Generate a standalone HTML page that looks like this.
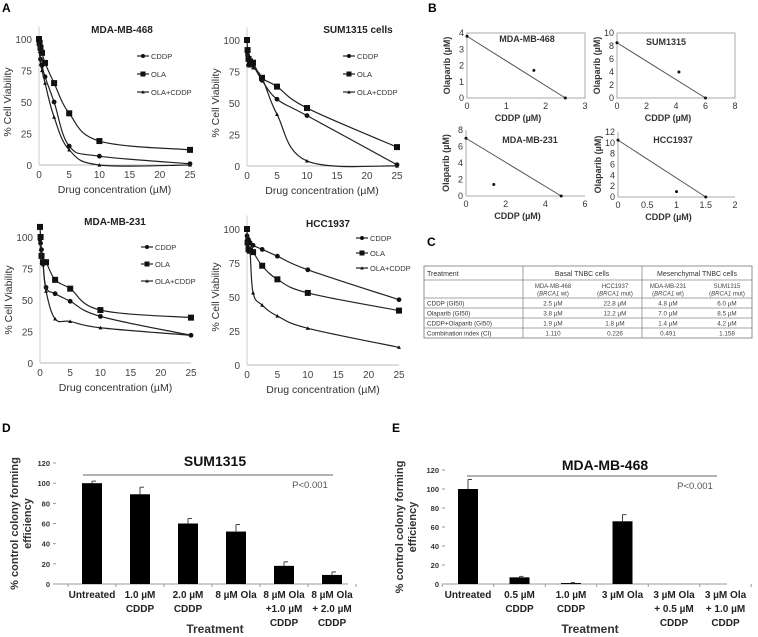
<!DOCTYPE html>
<html><head><meta charset="utf-8">
<style>
html,body{margin:0;padding:0;background:#fff;}
svg{display:block;font-family:"Liberation Sans",Arial,sans-serif;}
</style></head>
<body>
<svg id="fig" width="758" height="637" viewBox="0 0 758 637" xmlns="http://www.w3.org/2000/svg">
<text x="2" y="12" font-size="12" font-weight="bold">A</text>
<text x="428" y="12" font-size="12" font-weight="bold">B</text>
<text x="427" y="246" font-size="12" font-weight="bold">C</text>
<text x="2" y="432" font-size="12" font-weight="bold">D</text>
<text x="392" y="432" font-size="12" font-weight="bold">E</text>
<g id="tbl"></g>
</svg>
<script>
// ---------- Panel A data ----------
const doseX = [0, 0.1, 0.25, 0.5, 1, 2.5, 5, 10, 25];
const a1Cddp = [100, 95, 84, 79, 70, 50, 15, 7, 1];
const a1Ola = [100, 97, 93, 89, 81, 65, 41, 19, 12];
const a1Combo = [98, 90, 80, 75, 65, 38, 12, 0, 0];
const a2Cddp = [92, 88, 80, 80, 80, 68, 53, 40, 1];
const a2Ola = [100, 92, 85, 83, 82, 70, 63, 46, 15];
const a2Combo = [90, 85, 82, 80, 78, 70, 41, 4, 0];
const a3Cddp = [98, 95, 90, 80, 60, 55, 49, 37, 22];
const a3Ola = [108, 100, 85, 80, 80, 66, 59, 42, 36];
const a3Combo = [96, 90, 80, 78, 57, 35, 33, 28, 22];
const a4Cddp = [95, 93, 92, 90, 88, 85, 80, 70, 48];
const a4Ola = [100, 90, 85, 84, 83, 73, 63, 53, 40];
const a4Combo = [92, 88, 86, 84, 53, 44, 36, 27, 13];
const aXTicks = [0, 5, 10, 15, 20, 25];
const aYTicks = [0, 25, 50, 75, 100];
const aSeriesNames = ["CDDP", "OLA", "OLA+CDDP"];
// ---------- Panel B data ----------
const b1Line = [[0, 3.8], [2.5, 0]]; const b1Pt = [1.7, 1.7];
const b2Line = [[0, 8.5], [6, 0]]; const b2Pt = [4.2, 4];
const b3Line = [[0, 7], [4.8, 0]]; const b3Pt = [1.4, 1.4];
const b4Line = [[0, 10.5], [1.5, 0]]; const b4Pt = [1, 1];
const b1XTicks = [0, 1, 2, 3]; const b1YTicks = [0, 1, 2, 3, 4];
const b2XTicks = [0, 2, 4, 6, 8]; const b2YTicks = [0, 2, 4, 6, 8, 10];
const b3XTicks = [0, 2, 4, 6]; const b3YTicks = [0, 2, 4, 6, 8];
const b4XTicks = [0, 0.5, 1, 1.5, 2]; const b4YTicks = [0, 2, 4, 6, 8, 10, 12];
// ---------- Panel D/E data ----------
const dValues = [100, 89, 60, 52, 18, 9];
const dErrors = [2, 7, 5, 7, 4, 3];
const dCats = [["Untreated"], ["1.0 µM", "CDDP"], ["2.0 µM", "CDDP"], ["8 µM  Ola"], ["8 µM  Ola", "+1.0 µM", "CDDP"], ["8 µM  Ola", "+ 2.0 µM", "CDDP"]];
const eValues = [100, 7, 1, 66, 0, 0];
const eErrors = [10, 1, 0.5, 7, 0, 0];
const eCats = [["Untreated"], ["0.5 µM", "CDDP"], ["1.0 µM", "CDDP"], ["3 µM  Ola"], ["3 µM  Ola", "+ 0.5 µM", "CDDP"], ["3 µM  Ola", "+ 1.0 µM", "CDDP"]];
const barYTicks = [0, 20, 40, 60, 80, 100, 120];

const svg = document.getElementById('fig');
const NS = "http://www.w3.org/2000/svg";
function mk(tag, attrs, parent, txt) {
  const e = document.createElementNS(NS, tag);
  for (const k in attrs) e.setAttribute(k, attrs[k]);
  if (txt !== undefined) e.textContent = txt;
  (parent || svg).appendChild(e);
  return e;
}
function lin(d0, d1, r0, r1) { return v => r0 + (v - d0) / (d1 - d0) * (r1 - r0); }
function smoothPath(pts) {
  let d = "M" + pts[0][0] + "," + pts[0][1];
  for (let i = 0; i < pts.length - 1; i++) {
    const p0 = pts[i - 1] || pts[i], p1 = pts[i], p2 = pts[i + 1], p3 = pts[i + 2] || p2;
    const t = 0.18;
    const c1 = [p1[0] + (p2[0] - p0[0]) * t, p1[1] + (p2[1] - p0[1]) * t];
    const c2 = [p2[0] - (p3[0] - p1[0]) * t, p2[1] - (p3[1] - p1[1]) * t];
    d += " C" + c1[0] + "," + c1[1] + " " + c2[0] + "," + c2[1] + " " + p2[0] + "," + p2[1];
  }
  return d;
}
function marker(g, kind, x, y, s) {
  let m;
  if (kind === 0) m = mk('circle', { cx: x, cy: y, r: s * 0.8, fill: '#111' }, g);
  else if (kind === 1) m = mk('rect', { x: x - s, y: y - s, width: 2 * s, height: 2 * s, fill: '#111' }, g);
  else m = mk('polygon', { points: `${x},${y - s} ${x - s},${y + s * 0.8} ${x + s},${y + s * 0.8}`, fill: '#111' }, g);
  return m;
}

function lineChart(cfg) {
  const g = mk('g', {});
  
  
  const sx = lin(0, 25, cfg.x0, cfg.x1), sy = lin(0, 100, cfg.y0, cfg.y1);
  mk('line', { x1: cfg.x0, y1: sy(0), x2: cfg.x1, y2: sy(0), stroke: '#bbb', 'stroke-width': 1 }, g);
  mk('line', { x1: cfg.x0, y1: sy(0), x2: cfg.x0, y2: sy(110), stroke: '#ccc', 'stroke-width': 1 }, g);
  aXTicks.forEach(t => {
    const tx = mk('text', { x: sx(t), y: sy(0) + 13, 'font-size': 10, fill: '#444', 'text-anchor': 'middle' }, g, t);
    
    
  });
  aYTicks.forEach(t => {
    const ty = mk('text', { x: cfg.x0 - 7, y: sy(t) + 4, 'font-size': 10, fill: '#444', 'text-anchor': 'end' }, g, t);
    
    
  });
  const xt = mk('text', { x: (cfg.x0 + cfg.x1) / 2, y: sy(0) + 28, 'font-size': 10.5, fill: '#333', 'text-anchor': 'middle' }, g, 'Drug concentration (µM)');
  
  
  const yl = (sy(0) + sy(100)) / 2;
  const yt = mk('text', { x: cfg.x0 - 28, y: yl, 'font-size': 10.5, fill: '#333', 'text-anchor': 'middle', transform: `rotate(-90 ${cfg.x0 - 28} ${yl})` }, g, '% Cell Viability');
  
  
  const tt = mk('text', { x: cfg.tx, y: cfg.ty, 'font-size': 10, 'font-weight': 'bold', fill: '#222', 'text-anchor': 'middle' }, g, cfg.title);
  
  
  cfg.series.forEach((vals, si) => {
    const pts = doseX.map((x, i) => [sx(x), sy(vals[i])]);
    const p = mk('path', { d: smoothPath(pts), fill: 'none', stroke: '#222', 'stroke-width': 1.2 }, g);
    
    
    const size = si === 2 ? 2 : 3;
    pts.forEach(pt => {
      const m = marker(g, si, pt[0], pt[1], size);
      
      
    });
    const ly = cfg.ly + si * cfg.lstep;
    const le = mk('g', {}, g);
    
    
    mk('line', { x1: cfg.lx - 6, y1: ly, x2: cfg.lx + 6, y2: ly, stroke: '#222', 'stroke-width': 1.2 }, le);
    marker(le, si, cfg.lx, ly, si === 2 ? 1.8 : 2.5);
    mk('text', { x: cfg.lx + 8, y: ly + 3, 'font-size': 7.5, fill: '#333' }, le, aSeriesNames[si]);
  });
}
lineChart({ name: 'chart-mda-mb-468-viability', title: 'MDA-MB-468', x0: 39, x1: 190, y0: 165, y1: 39, tx: 122, ty: 33, lx: 143, ly: 56, lstep: 18, series: [a1Cddp, a1Ola, a1Combo] });
lineChart({ name: 'chart-sum1315-viability', title: 'SUM1315 cells', x0: 247, x1: 397, y0: 166, y1: 40, tx: 358, ty: 33, lx: 349, ly: 56, lstep: 18, series: [a2Cddp, a2Ola, a2Combo] });
lineChart({ name: 'chart-mda-mb-231-viability', title: 'MDA-MB-231', x0: 40, x1: 191, y0: 363, y1: 237, tx: 115, ty: 225, lx: 147, ly: 247, lstep: 17, series: [a3Cddp, a3Ola, a3Combo] });
lineChart({ name: 'chart-hcc1937-viability', title: 'HCC1937', x0: 247, x1: 399, y0: 365, y1: 229, tx: 328, ty: 227, lx: 362, ly: 238, lstep: 15, series: [a4Cddp, a4Ola, a4Combo] });

// ---------- Panel B ----------
function isobol(cfg) {
  const g = mk('g', {});
  
  
  const xm = cfg.xt[cfg.xt.length - 1], ym = cfg.yt[cfg.yt.length - 1];
  const sx = lin(0, xm, cfg.x0, cfg.x1), sy = lin(0, ym, cfg.y0, cfg.y1);
  if (cfg.box) mk('rect', { x: cfg.x0, y: cfg.y1, width: cfg.x1 - cfg.x0, height: cfg.y0 - cfg.y1, fill: 'none', stroke: '#aaa', 'stroke-width': 1 }, g);
  else {
    mk('line', { x1: cfg.x0, y1: cfg.y0, x2: cfg.x1, y2: cfg.y0, stroke: '#aaa' }, g);
    mk('line', { x1: cfg.x0, y1: cfg.y0, x2: cfg.x0, y2: cfg.y1, stroke: '#aaa' }, g);
  }
  cfg.xt.forEach(t => {
    const e = mk('text', { x: sx(t), y: cfg.y0 + 11, 'font-size': 9, fill: '#333', 'text-anchor': 'middle' }, g, t);
    
    
  });
  cfg.yt.forEach(t => {
    const e = mk('text', { x: cfg.x0 - 3, y: sy(t) + 3, 'font-size': 9, fill: '#333', 'text-anchor': 'end' }, g, t);
    
    
  });
  const ln = mk('line', { x1: sx(cfg.line[0][0]), y1: sy(cfg.line[0][1]), x2: sx(cfg.line[1][0]), y2: sy(cfg.line[1][1]), stroke: '#555', 'stroke-width': 1 }, g);
  
  
  cfg.line.forEach(p => {
    const c = mk('circle', { cx: sx(p[0]), cy: sy(p[1]), r: 1.5, fill: '#111' }, g);
    
    
  });
  const cp = mk('circle', { cx: sx(cfg.pt[0]), cy: sy(cfg.pt[1]), r: 1.5, fill: '#111' }, g);
  
  
  const tt = mk('text', { x: cfg.tx, y: cfg.ty, 'font-size': 9, 'font-weight': 'bold', fill: '#333', 'text-anchor': 'middle' }, g, cfg.title);
  
  
  const xt = mk('text', { x: (cfg.x0 + cfg.x1) / 2 - 8, y: cfg.y0 + 23, 'font-size': 9, 'font-weight': 'bold', fill: '#333', 'text-anchor': 'middle' }, g, 'CDDP (µM)');
  
  
  const yy = (cfg.y0 + cfg.y1) / 2, yx = cfg.x0 - 17;
  const yt = mk('text', { x: yx, y: yy, 'font-size': 9, 'font-weight': 'bold', fill: '#333', 'text-anchor': 'middle', transform: `rotate(-90 ${yx} ${yy})` }, g, 'Olaparib (µM)');
  
  
}
isobol({ name: 'isobologram-mda-mb-468', title: 'MDA-MB-468', x0: 467, x1: 585, y0: 98, y1: 33, xt: b1XTicks, yt: b1YTicks, line: b1Line, pt: b1Pt, box: true, tx: 527, ty: 42 });
isobol({ name: 'isobologram-sum1315', title: 'SUM1315', x0: 617, x1: 735, y0: 98, y1: 33, xt: b2XTicks, yt: b2YTicks, line: b2Line, pt: b2Pt, box: true, tx: 666, ty: 45 });
isobol({ name: 'isobologram-mda-mb-231', title: 'MDA-MB-231', x0: 466, x1: 585, y0: 196, y1: 130, xt: b3XTicks, yt: b3YTicks, line: b3Line, pt: b3Pt, box: false, tx: 530, ty: 143 });
isobol({ name: 'isobologram-hcc1937', title: 'HCC1937', x0: 618, x1: 735, y0: 197, y1: 132, xt: b4XTicks, yt: b4YTicks, line: b4Line, pt: b4Pt, box: false, tx: 673, ty: 143 });

// ---------- Panel C table ----------
const tbl = document.getElementById('tbl');
const rowsY = [266, 280, 298, 308, 318, 328, 338];
mk('rect', { x: 424, y: 266, width: 328, height: 72, fill: 'none', stroke: '#777', 'stroke-width': 0.8 }, tbl);
rowsY.slice(1, -1).forEach(y => mk('line', { x1: 424, y1: y, x2: 752, y2: y, stroke: '#888', 'stroke-width': 0.8 }, tbl));
[523, 642].forEach(x => mk('line', { x1: x, y1: 266, x2: x, y2: 338, stroke: '#888', 'stroke-width': 0.8 }, tbl));
const tRows = [["CDDP (GI50)", "2.5 µM", "22.8 µM", "4.8 µM", "6.0 µM"], ["Olaparib (GI50)", "3.8 µM", "12.2 µM", "7.0 µM", "8.5 µM"], ["CDDP+Olaparib (GI50)", "1.9 µM", "1.8 µM", "1.4 µM", "4.2 µM"], ["Combination index (CI)", "1.110", "0.226", "0.491", "1.158"]];
const colX = [553, 615, 668, 727];
mk('text', { x: 427, y: 276, 'font-size': 7, fill: '#333' }, tbl, 'Treatment');
mk('text', { x: 582, y: 276, 'font-size': 7, fill: '#333', 'text-anchor': 'middle' }, tbl, 'Basal TNBC cells');
mk('text', { x: 697, y: 276, 'font-size': 7, fill: '#333', 'text-anchor': 'middle' }, tbl, 'Mesenchymal TNBC cells');
[["MDA-MB-468", "BRCA1", " wt)"], ["HCC1937", "BRCA1", " mut)"], ["MDA-MB-231", "BRCA1", " wt)"], ["SUM1315", "BRCA1", " mut)"]].forEach((h, i) => {
  mk('text', { x: colX[i], y: 288, 'font-size': 6, fill: '#444', 'text-anchor': 'middle' }, tbl, h[0]);
  const t = mk('text', { x: colX[i], y: 295.5, 'font-size': 6, fill: '#444', 'text-anchor': 'middle' }, tbl);
  mk('tspan', {}, t, '(');
  mk('tspan', { 'font-style': 'italic' }, t, h[1]);
  mk('tspan', {}, t, h[2]);
});
tRows.forEach((r, ri) => {
  const y = rowsY[ri + 2] + 7.5;
  mk('text', { x: 427, y: y, 'font-size': 6.3, fill: '#333' }, tbl, r[0]);
  r.slice(1).forEach((v, ci) => mk('text', { x: colX[ci], y: y, 'font-size': 6.3, fill: '#444', 'text-anchor': 'middle' }, tbl, v));
});

// ---------- Panels D/E ----------
function barChart(cfg) {
  const g = mk('g', {});
  
  
  const sy = lin(0, 120, cfg.y0, cfg.y120);
  const bx = i => cfg.b0 + i * cfg.step;
  mk('line', { x1: cfg.ax0, y1: cfg.y0, x2: cfg.ax1, y2: cfg.y0, stroke: '#999' }, g);
  for (let i = 0; i <= cfg.values.length; i++) mk('line', { x1: bx(i) - cfg.step / 2, y1: cfg.y0, x2: bx(i) - cfg.step / 2, y2: cfg.y0 + 3, stroke: '#999' }, g);
  barYTicks.forEach(t => {
    mk('line', { x1: cfg.ax0 - 3, y1: sy(t), x2: cfg.ax0, y2: sy(t), stroke: '#999' }, g);
    const e = mk('text', { x: cfg.ax0 - 6, y: sy(t) + 3, 'font-size': 7.5, 'font-weight': 'bold', fill: '#333', 'text-anchor': 'end' }, g, t);
    
    
  });
  cfg.values.forEach((v, i) => {
    const b = mk('rect', { x: bx(i) - 10, y: sy(v), width: 20, height: cfg.y0 - sy(v), fill: '#000' }, g);
    
    
    if (cfg.errors[i] > 0) {
      const top = sy(v + cfg.errors[i]);
      mk('line', { x1: bx(i), y1: sy(v), x2: bx(i), y2: top, stroke: '#444' }, g);
      mk('line', { x1: bx(i), y1: top, x2: bx(i) + 4, y2: top, stroke: '#444' }, g);
    }
    cfg.cats[i].forEach((l, li) => {
      const e = mk('text', { x: bx(i), y: cfg.y0 + 14 + li * 14, 'font-size': 10, 'font-weight': 'bold', fill: '#222', 'text-anchor': 'middle' }, g, l);
      
      
    });
  });
  const t = mk('text', { x: cfg.tx, y: cfg.ty, 'font-size': 14, 'font-weight': 'bold', fill: '#111', 'text-anchor': 'middle' }, g, cfg.title);
  
  
  const sl = mk('line', { x1: cfg.s0, y1: cfg.sy, x2: cfg.s1, y2: cfg.sy, stroke: '#666' }, g);
  
  
  const p = mk('text', { x: cfg.px, y: cfg.sy + 13, 'font-size': 9.5, fill: '#555', 'text-anchor': 'middle' }, g, 'P<0.001');
  
  
  const xt = mk('text', { x: cfg.xtx, y: 633, 'font-size': 12, 'font-weight': 'bold', fill: '#333', 'text-anchor': 'middle' }, g, 'Treatment');
  
  
  const cy = (cfg.y0 + cfg.y120) / 2;
  const y1 = mk('text', { x: cfg.ylx, y: cy, 'font-size': 11, 'font-weight': 'bold', fill: '#333', 'text-anchor': 'middle', transform: `rotate(-90 ${cfg.ylx} ${cy})` }, g, '% control colony forming');
  
  
  mk('text', { x: cfg.ylx + 13, y: cy, 'font-size': 11, 'font-weight': 'bold', fill: '#333', 'text-anchor': 'middle', transform: `rotate(-90 ${cfg.ylx + 13} ${cy})` }, g, 'efficiency');
}
barChart({ name: 'bar-chart-sum1315', title: 'SUM1315', values: dValues, errors: dErrors, cats: dCats, y0: 584, y120: 463, ax0: 56, ax1: 348, b0: 92, step: 48, tx: 215, ty: 466, s0: 83, s1: 333, sy: 475, px: 310, xtx: 215, ylx: 18 });
barChart({ name: 'bar-chart-mda-mb-468', title: 'MDA-MB-468', values: eValues, errors: eErrors, cats: eCats, y0: 584, y120: 470, ax0: 445, ax1: 727, b0: 468, step: 51.5, tx: 605, ty: 470, s0: 467, s1: 717, sy: 476, px: 695, xtx: 590, ylx: 403 });
</script>
</body></html>
